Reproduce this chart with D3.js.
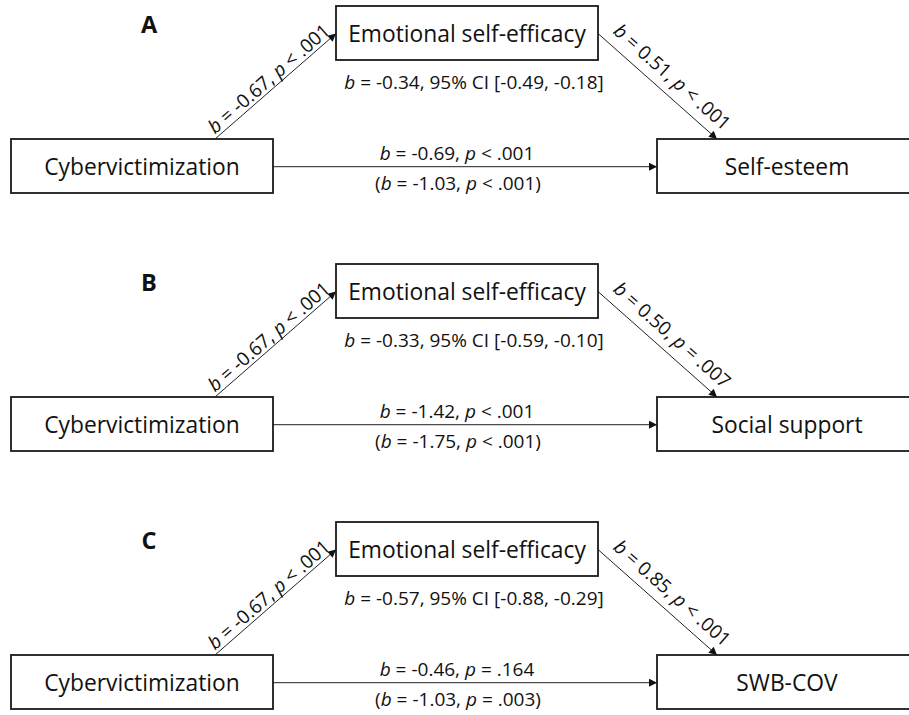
<!DOCTYPE html>
<html><head><meta charset="utf-8">
<script src="https://cdn.jsdelivr.net/npm/d3@7"></script>
<style>
body{margin:0;background:#fff;}
svg{display:block;}
text{font-family:"Open Sans",sans-serif;fill:#111;}
</style>
</head><body><svg id="chart" width="909" height="715"></svg>
<script>
// ---- data ----
const panels = ["A", "B", "C"];
const predictor = "Cybervictimization";
const mediator = "Emotional self-efficacy";
const outcomes = ["Self-esteem", "Social support", "SWB-COV"];
const aB = [-0.67, -0.67, -0.67];
const aP = ["< .001", "< .001", "< .001"];
const bB = [0.51, 0.50, 0.85];
const bP = ["< .001", "= .007", "< .001"];
const directB = [-0.69, -1.42, -0.46];
const directP = ["< .001", "< .001", "= .164"];
const totalB = [-1.03, -1.75, -1.03];
const totalP = ["< .001", "< .001", "= .003"];
const indirectB = [-0.34, -0.33, -0.57];
const ciLow = [-0.49, -0.59, -0.88];
const ciHigh = [-0.18, -0.10, -0.29];

// ---- helpers ----
const loc = d3.formatLocale({decimal: ".", thousands: ",", grouping: [3], currency: ["", ""], minus: "-"});
const f2 = loc.format(".2f");

const svg = d3.select("#chart");
const panelY = d3.scalePoint().domain(panels).range([0, 516]);

const W = 262, H = 54;
const FS = 19;
const nodes = {
  pred: {x: 11, y: 139},
  med: {x: 336, y: 6},
  out: {x: 657, y: 139}
};

svg.append("defs").append("marker")
  .attr("id", "arr").attr("viewBox", "0 0 10 10")
  .attr("refX", 10).attr("refY", 5)
  .attr("markerWidth", 10).attr("markerHeight", 8)
  .attr("markerUnits", "userSpaceOnUse").attr("orient", "auto")
  .append("path").attr("d", "M0,0 L10,5 L0,10 Z").attr("fill", "#111");

function addRich(sel, segs) {
  segs.forEach(s => {
    sel.append("tspan").attr("font-style", s.i ? "italic" : null).text(s.t);
  });
}
function coefSegs(b, p, paren) {
  const segs = [{t: "b", i: true}, {t: " = " + f2(b) + ", "}, {t: "p", i: true}, {t: " " + p}];
  if (paren) { segs.unshift({t: "("}); segs.push({t: ")"}); }
  return segs;
}

panels.forEach((lab, k) => {
  const g = svg.append("g").attr("transform", `translate(0,${panelY(lab)})`);

  // panel label
  g.append("text").attr("x", 149).attr("y", 33).attr("text-anchor", "middle")
    .attr("font-size", 23.5).attr("font-weight", "bold").text(lab);

  // arrows
  const p1 = [nodes.pred.x + 204, nodes.pred.y];
  const p2 = [nodes.med.x, nodes.med.y + H / 2 + 0.5];
  const q1 = [nodes.med.x + W, nodes.med.y + H / 2 + 0.5];
  const q2 = [nodes.out.x + 60, nodes.out.y];
  const r1 = [nodes.pred.x + W, nodes.pred.y + H / 2 + 0.7];
  const r2 = [nodes.out.x, nodes.out.y + H / 2 + 0.7];
  [[p1, p2], [q1, q2], [r1, r2]].forEach(([s, e]) => {
    g.append("line").attr("x1", s[0]).attr("y1", s[1]).attr("x2", e[0]).attr("y2", e[1])
      .attr("stroke", "#222").attr("stroke-width", 1).attr("marker-end", "url(#arr)");
  });

  // boxes
  const boxes = [
    {n: nodes.pred, t: predictor, cx: nodes.pred.x + W / 2},
    {n: nodes.med, t: mediator, cx: 467},
    {n: nodes.out, t: outcomes[k], cx: 787}
  ];
  boxes.forEach(b => {
    g.append("rect").attr("x", b.n.x).attr("y", b.n.y).attr("width", W).attr("height", H)
      .attr("fill", "#fff").attr("stroke", "#1a1a1a").attr("stroke-width", 1.8);
    g.append("text").attr("x", b.cx).attr("y", b.n.y + H / 2 + 8.5)
      .attr("text-anchor", "middle").attr("font-size", 22.8).text(b.t);
  });

  // a path label
  const angA = Math.atan2(p2[1] - p1[1], p2[0] - p1[0]) * 180 / Math.PI;
  const ta = g.append("text")
    .attr("transform", `translate(${(p1[0] + p2[0]) / 2},${(p1[1] + p2[1]) / 2}) rotate(${angA})`)
    .attr("x", 0).attr("y", -3.5).attr("text-anchor", "middle").attr("font-size", FS);
  addRich(ta, coefSegs(aB[k], aP[k]));

  // b path label
  const angB = Math.atan2(q2[1] - q1[1], q2[0] - q1[0]) * 180 / Math.PI;
  const tb = g.append("text")
    .attr("transform", `translate(${(q1[0] + q2[0]) / 2},${(q1[1] + q2[1]) / 2}) rotate(${angB})`)
    .attr("x", 5).attr("y", -10).attr("text-anchor", "middle").attr("font-size", FS);
  addRich(tb, coefSegs(bB[k], bP[k]));

  // direct / total
  const td = g.append("text").attr("x", 457).attr("y", 159.5).attr("text-anchor", "middle").attr("font-size", FS);
  addRich(td, coefSegs(directB[k], directP[k]));
  const tt = g.append("text").attr("x", 458).attr("y", 190).attr("text-anchor", "middle").attr("font-size", FS);
  addRich(tt, coefSegs(totalB[k], totalP[k], true));

  // indirect
  const ti = g.append("text").attr("x", 474).attr("y", 89).attr("text-anchor", "middle").attr("font-size", FS);
  addRich(ti, [{t: "b", i: true}, {t: " = " + f2(indirectB[k]) + ", 95% CI [" + f2(ciLow[k]) + ", " + f2(ciHigh[k]) + "]"}]);
});
</script>
</body></html>
